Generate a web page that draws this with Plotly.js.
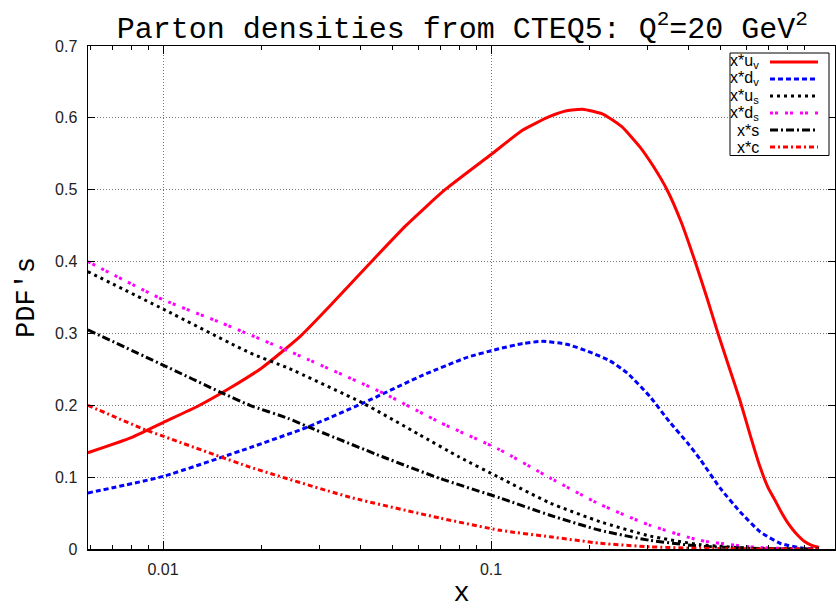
<!DOCTYPE html>
<html>
<head>
<meta charset="utf-8">
<script src="https://cdn.plot.ly/plotly-3.0.1.min.js"></script>
<style>
  html, body { margin: 0; padding: 0; background: #fff; }
  #chart { width: 836px; height: 609px; }
</style>
</head>
<body>
<div id="chart"></div>
<script>
// CTEQ5 parton densities x*f(x) at Q^2 = 20 GeV^2

// valence up
const xUv = [0.0059, 0.008, 0.01, 0.0128, 0.016, 0.02, 0.0262, 0.033, 0.0428, 0.055, 0.0724, 0.1, 0.125, 0.151, 0.17, 0.19, 0.22, 0.25, 0.285, 0.31, 0.344, 0.38, 0.419, 0.455, 0.492, 0.53, 0.574, 0.62, 0.66, 0.7, 0.734, 0.77, 0.804, 0.85, 0.906, 0.95, 1.0];
const yUv = [0.134, 0.155, 0.176, 0.199, 0.224, 0.252, 0.296, 0.343, 0.398, 0.450, 0.500, 0.549, 0.583, 0.602, 0.610, 0.612, 0.605, 0.588, 0.559, 0.535, 0.500, 0.455, 0.400, 0.350, 0.300, 0.255, 0.207, 0.155, 0.115, 0.085, 0.068, 0.050, 0.036, 0.022, 0.010, 0.005, 0.002];

// valence down
const xDv = [0.0059, 0.01, 0.0184, 0.0277, 0.0407, 0.062, 0.085, 0.1043, 0.125, 0.144, 0.17, 0.2003, 0.23, 0.26, 0.3053, 0.35, 0.4, 0.4337, 0.499, 0.574, 0.661, 0.76, 0.894, 1.0];
const yDv = [0.078, 0.101, 0.141, 0.170, 0.203, 0.242, 0.267, 0.278, 0.286, 0.289, 0.285, 0.274, 0.262, 0.245, 0.212, 0.177, 0.146, 0.125, 0.085, 0.052, 0.024, 0.008, 0.001, 0.0];

// sea up
const xUs = [0.0059, 0.01, 0.0184, 0.024, 0.0407, 0.06, 0.08, 0.1065, 0.1513, 0.215, 0.3053, 0.4337, 0.616, 0.8, 1.0];
const yUs = [0.386, 0.334, 0.273, 0.252, 0.203, 0.160, 0.128, 0.099, 0.064, 0.038, 0.018, 0.006, 0.001, 0.0003, 0.0];

// sea down
const xDs = [0.0059, 0.01, 0.015, 0.024, 0.0469, 0.07, 0.1065, 0.1513, 0.215, 0.3053, 0.4337, 0.616, 0.8, 1.0];
const yDs = [0.400, 0.347, 0.315, 0.276, 0.217, 0.176, 0.138, 0.099, 0.062, 0.033, 0.012, 0.003, 0.0005, 0.0];

// strange
const xS = [0.0059, 0.01, 0.015, 0.0184, 0.024, 0.0277, 0.0469, 0.07, 0.1065, 0.1513, 0.215, 0.3053, 0.4337, 0.616, 0.8, 1.0];
const yS = [0.305, 0.256, 0.218, 0.200, 0.182, 0.170, 0.128, 0.098, 0.071, 0.047, 0.026, 0.012, 0.004, 0.001, 0.0002, 0.0];

// charm
const xC = [0.0059, 0.00881, 0.01, 0.0184, 0.0372, 0.07, 0.1065, 0.1513, 0.215, 0.3053, 0.4337, 0.616, 1.0];
const yC = [0.200, 0.166, 0.157, 0.114, 0.072, 0.043, 0.026, 0.017, 0.008, 0.003, 0.001, 0.0002, 0.0];

const seriesNames = ['x*u<sub>v</sub>', 'x*d<sub>v</sub>', 'x*u<sub>s</sub>', 'x*d<sub>s</sub>', 'x*s', 'x*c'];
const seriesColors = ['#ff0000', '#0000ff', '#000000', '#ff00ff', '#000000', '#ff0000'];
const seriesDashes = ['solid', '5px,3px', '3px,4px', '3px,2px,3px,7px', '8px,3px,2px,3px', '5px,3px,2px,3px'];
const seriesX = [xUv, xDv, xUs, xDs, xS, xC];
const seriesY = [yUv, yDv, yUs, yDs, yS, yC];

const sansFont = 'Liberation Sans, Arial, sans-serif';
const monoFont = 'Courier New, Liberation Mono, monospace';

const traces = seriesX.map(function (x, i) {
  return {
    x: x, y: seriesY[i], name: seriesNames[i], type: 'scatter', mode: 'lines',
    line: { color: seriesColors[i], width: 3, dash: seriesDashes[i], shape: 'spline', smoothing: 0.5 },
    showlegend: false
  };
});

// key box in the top right corner: labels on the left, line samples on the right
const plotW = 747, plotH = 503;          // plot area in px
const px = v => v / plotW;                // px offset -> paper fraction
const py = v => v / plotH;
const keyLeft = 642, keyRight = 741, keyTop = 496, rowH = 17;   // px from plot origin
const shapes = [{
  type: 'rect', xref: 'paper', yref: 'paper',
  x0: px(keyLeft), x1: px(keyRight), y0: py(keyTop - 6 * rowH - 0.5), y1: py(keyTop),
  line: { color: '#000', width: 1 }, fillcolor: '#fff', layer: 'above'
}];
const annotations = [];
seriesNames.forEach(function (name, i) {
  const yc = py(keyTop - 9 - i * rowH);
  shapes.push({
    type: 'line', xref: 'paper', yref: 'paper',
    x0: px(682), x1: px(730), y0: yc, y1: yc,
    line: { color: seriesColors[i], width: 3, dash: seriesDashes[i] }, layer: 'above'
  });
  annotations.push({
    xref: 'paper', yref: 'paper', x: px(673), y: yc,
    xanchor: 'right', yanchor: 'middle', showarrow: false,
    text: name, font: { family: sansFont, size: 16, color: '#000' }
  });
});

// minor ticks at 2..9 of each decade
const minorTicks = [];
[0.001, 0.01, 0.1].forEach(function (d) {
  for (let k = 2; k <= 9; k++) minorTicks.push(k * d);
});

const layout = {
  width: 836, height: 609,
  margin: { l: 88, r: 1, t: 46, b: 60 },
  paper_bgcolor: '#fff', plot_bgcolor: '#fff',
  showlegend: false,
  title: {
    text: 'Parton densities from CTEQ5: Q<sup>2</sup>=20 GeV<sup>2</sup>',
    font: { family: monoFont, size: 30, color: '#000' },
    x: 0.553, xanchor: 'center', y: 0.955, yanchor: 'middle'
  },
  xaxis: {
    type: 'log',
    range: [-2.2287, 0.0487],
    tickvals: [0.01, 0.1],
    ticktext: ['0.01', '0.1'],
    ticks: 'inside', ticklen: 8, tickcolor: '#000', tickwidth: 1,
    showline: true, linecolor: '#000', linewidth: 1.5, mirror: 'ticks',
    showgrid: true, gridcolor: '#777', griddash: '1px,2px', gridwidth: 1,
    zeroline: false,
    minor: { tickvals: minorTicks, ticks: 'inside', ticklen: 4, tickcolor: '#000', showgrid: false },
    ticklabelstandoff: 5,
    tickfont: { family: sansFont, size: 16, color: '#222' },
    title: { text: 'x', font: { family: monoFont, size: 27, color: '#000' }, standoff: 10 }
  },
  yaxis: {
    range: [0, 0.7],
    dtick: 0.1,
    tickformat: '.1~f',
    ticks: 'inside', ticklen: 7, tickcolor: '#000', tickwidth: 1,
    showline: true, linecolor: '#000', linewidth: 1.5, mirror: 'ticks',
    showgrid: true, gridcolor: '#777', griddash: '1px,2px', gridwidth: 1,
    zeroline: false,
    ticklabelstandoff: 6,
    tickfont: { family: sansFont, size: 16, color: '#222' },
    title: { text: "PDF's", font: { family: monoFont, size: 27, color: '#000' }, standoff: 12 }
  },
  shapes: shapes,
  annotations: annotations
};

Plotly.newPlot('chart', traces, layout, { staticPlot: true, displayModeBar: false });
</script>
</body>
</html>
